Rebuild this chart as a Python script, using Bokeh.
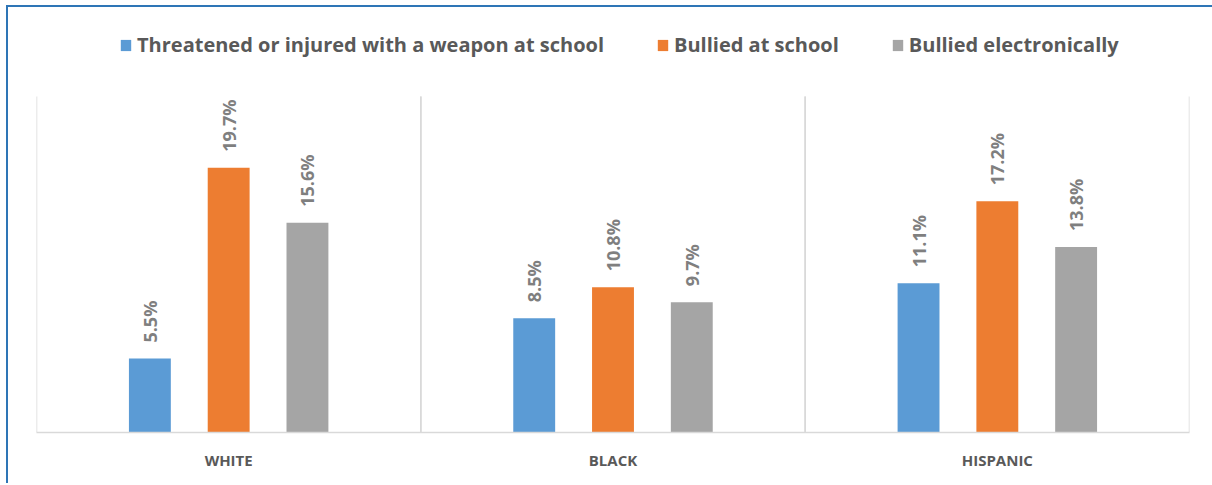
from math import pi
from bokeh.plotting import figure
from bokeh.models import (FactorRange, Range1d, ColumnDataSource, LabelSet,
                          Legend, LegendItem)
from bokeh.core.properties import value
from bokeh.transform import dodge
from bokeh.embed import file_html
from bokeh.resources import INLINE

categories = ["WHITE", "BLACK", "HISPANIC"]
series = ["Threatened or injured with a weapon at school",
          "Bullied at school",
          "Bullied electronically"]
weapon = [5.5, 8.5, 11.1]
bullied_school = [19.7, 10.8, 17.2]
bullied_electronic = [15.6, 9.7, 13.8]
colors = ["#5B9BD5", "#ED7D31", "#A5A5A5"]
y_axis_max = 25

cols = ["weapon", "school", "electronic"]
data = {"cat": categories, "weapon": weapon, "school": bullied_school,
        "electronic": bullied_electronic,
        "zero": [0] * len(categories), "ymax": [y_axis_max] * len(categories)}
for c in cols:
    data[c + "_lbl"] = [f"{v}%" for v in data[c]]
source = ColumnDataSource(data)

# frame: 336 px hold 0..25; extra 68 px above hold the legend
frame_h = 404
plot_h = 336
p = figure(x_range=FactorRange(*categories, range_padding=0),
           y_range=Range1d(0, y_axis_max * frame_h / plot_h),
           width=1220, height=478,
           output_backend="svg", toolbar_location=None,
           y_axis_location=None,
           min_border_left=28, min_border_right=39,
           min_border_top=21, min_border_bottom=53)
p.styles = {"margin-left": "8px", "margin-top": "7px",
            "box-shadow": "-2px -2px 0 0 #2E75B6"}

p.outline_line_color = None
p.xgrid.visible = False
p.ygrid.visible = False
p.background_fill_color = "white"
p.border_fill_color = "white"

ax = p.xaxis[0]
ax.axis_line_color = "#D9D9D9"
ax.axis_line_width = 1.5
ax.major_tick_line_color = None
ax.minor_tick_line_color = None
ax.major_tick_in = 0
ax.major_tick_out = 0
ax.major_label_text_font = "Open Sans"
ax.major_label_text_font_style = "bold"
ax.major_label_text_font_size = "15px"
ax.major_label_text_color = "#595959"
ax.major_label_standoff = 17

# category separators (vertical gridlines between categories)
for edge in (-0.5, 0.5):
    xs = dodge("cat", edge, range=p.x_range)
    p.segment(x0=xs, y0="zero", x1=xs, y1="ymax", source=source,
              line_color="#D9D9D9", line_width=1.5)

offsets = [-0.205, 0.0, 0.205]
renderers = []
for c, off, col in zip(cols, offsets, colors):
    r = p.vbar(x=dodge("cat", off, range=p.x_range), top=c, width=0.109,
               source=source, fill_color=col, line_color=None)
    renderers.append(r)
    p.add_layout(LabelSet(x=dodge("cat", off, range=p.x_range), y=c,
                          text=c + "_lbl", source=source, angle=pi / 2,
                          y_offset=16, text_align="left",
                          text_baseline="middle", text_font=value("Open Sans"),
                          text_font_style="bold", text_font_size="18px",
                          text_color="#7F7F7F"))

legend = Legend(items=[LegendItem(label=s, renderers=[r])
                       for s, r in zip(series, renderers)],
                orientation="horizontal", location=(83, 374),
                glyph_width=13, glyph_height=14, label_standoff=5,
                spacing=52, padding=0, margin=0,
                label_text_font="Open Sans", label_text_font_style="bold",
                label_text_font_size="20px", label_text_color="#595959",
                border_line_color=None, background_fill_alpha=0)
p.add_layout(legend, "center")

open("out.html", "w").write(file_html(p, INLINE))
